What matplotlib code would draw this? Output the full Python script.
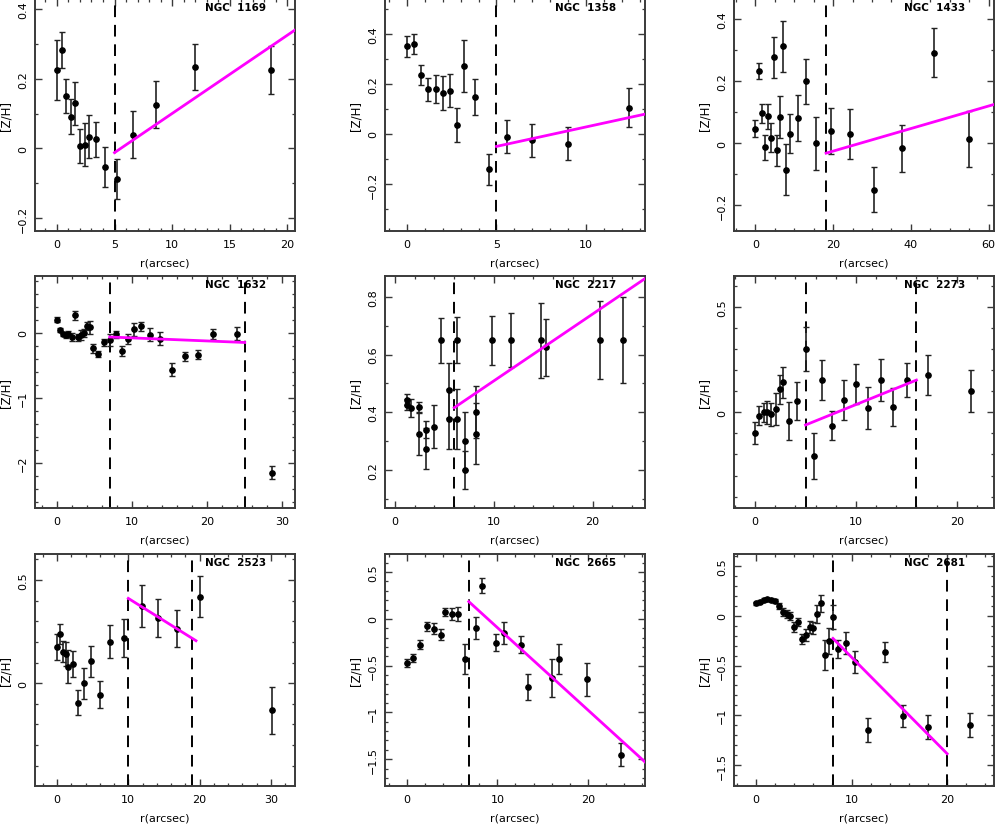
import matplotlib
matplotlib.use("Agg")
import matplotlib.pyplot as plt
from matplotlib.ticker import MultipleLocator, FuncFormatter

# ---------------------------------------------------------------------------
# Data: r (arcsec), [Z/H], error
# ---------------------------------------------------------------------------

names = ["NGC  1169", "NGC  1358", "NGC  1433",
         "NGC  1632", "NGC  2217", "NGC  2273",
         "NGC  2523", "NGC  2665", "NGC  2681"]

r_1169 = [0, 0.4, 0.8, 1.2, 1.6, 2.0, 2.4, 2.8, 3.4, 4.2, 5.2, 6.6, 8.6, 12.0, 18.6]
z_1169 = [0.225, 0.282, 0.15, 0.091, 0.13, 0.007, 0.011, 0.034, 0.026, -0.054,
          -0.088, 0.04, 0.126, 0.235, 0.225]
e_1169 = [0.085, 0.052, 0.048, 0.05, 0.062, 0.048, 0.062, 0.062, 0.05, 0.058,
          0.058, 0.068, 0.068, 0.066, 0.07]

r_1358 = [0, 0.4, 0.8, 1.2, 1.6, 2.0, 2.4, 2.8, 3.2, 3.8, 4.6, 5.6, 7.0, 9.0, 12.4]
z_1358 = [0.35, 0.36, 0.235, 0.178, 0.18, 0.165, 0.173, 0.035, 0.272, 0.148,
          -0.142, -0.012, -0.025, -0.04, 0.104]
e_1358 = [0.043, 0.04, 0.04, 0.045, 0.057, 0.068, 0.065, 0.068, 0.103, 0.073,
          0.062, 0.066, 0.066, 0.066, 0.078]

r_1433 = [0, 0.9, 1.6, 2.4, 3.2, 4.0, 4.7, 5.5, 6.3, 7.0, 7.8, 8.8, 11.0, 13.0,
          15.7, 19.4, 24.4, 30.4, 37.7, 45.9, 55.0]
z_1433 = [0.047, 0.234, 0.097, -0.013, 0.087, 0.018, 0.277, -0.023, 0.084, 0.312,
          -0.085, 0.03, 0.082, 0.2, 0.0, 0.039, 0.029, -0.15, -0.017, 0.292, 0.014]
e_1433 = [0.027, 0.026, 0.031, 0.04, 0.04, 0.047, 0.067, 0.05, 0.068, 0.083,
          0.082, 0.063, 0.075, 0.072, 0.085, 0.075, 0.08, 0.073, 0.076, 0.08, 0.09]

r_1632 = [0, 0.35, 0.75, 1.15, 1.5, 1.95, 2.4, 2.8, 3.2, 3.55, 4.0, 4.4, 4.8, 5.4,
          6.2, 7.0, 7.8, 8.6, 9.4, 10.2, 11.2, 12.4, 13.75, 15.35, 17.0, 18.8,
          20.8, 24.0, 28.6]
z_1632 = [0.2, 0.04, -0.02, -0.035, -0.015, -0.07, 0.27, -0.07, -0.035, -0.005,
          0.105, 0.08, -0.24, -0.33, -0.15, -0.11, -0.025, -0.28, -0.1, 0.05, 0.1,
          -0.035, -0.09, -0.57, -0.36, -0.34, -0.02, -0.015, -2.15]
e_1632 = [0.04, 0.03, 0.03, 0.04, 0.04, 0.06, 0.07, 0.05, 0.07, 0.06, 0.06, 0.1,
          0.07, 0.05, 0.06, 0.09, 0.05, 0.08, 0.08, 0.1, 0.07, 0.1, 0.1, 0.1, 0.07,
          0.07, 0.08, 0.1, 0.1]

r_2217 = [1.2, 1.2, 1.6, 2.4, 2.4, 3.15, 3.15, 3.95, 4.7, 5.5, 5.5, 6.25, 6.25,
          7.05, 7.05, 8.2, 8.2, 9.8, 11.7, 14.8, 15.3, 20.7, 23.05]
z_2217 = [0.444, 0.427, 0.415, 0.417, 0.326, 0.34, 0.274, 0.35, 0.65, 0.476, 0.377,
          0.65, 0.377, 0.3, 0.2, 0.4, 0.326, 0.65, 0.65, 0.65, 0.625, 0.65, 0.65]
e_2217 = [0.02, 0.02, 0.03, 0.02, 0.075, 0.03, 0.07, 0.075, 0.078, 0.095, 0.105,
          0.08, 0.105, 0.1, 0.065, 0.09, 0.107, 0.085, 0.093, 0.13, 0.1, 0.135, 0.15]

r_2273 = [0, 0.43, 0.83, 1.22, 1.62, 2.02, 2.42, 2.81, 3.4, 4.2, 5.07, 5.86, 6.62,
          7.6, 8.84, 10.03, 11.2, 12.45, 13.64, 15.03, 17.2, 21.4]
z_2273 = [-0.098, -0.017, 0.0, 0.0, -0.01, 0.016, 0.109, 0.142, -0.04, 0.054, 0.301,
          -0.207, 0.153, -0.063, 0.057, 0.136, 0.02, 0.155, 0.024, 0.153, 0.175, 0.101]
e_2273 = [0.05, 0.045, 0.045, 0.055, 0.055, 0.075, 0.07, 0.075, 0.09, 0.09, 0.105,
          0.11, 0.095, 0.07, 0.095, 0.095, 0.1, 0.1, 0.09, 0.082, 0.095, 0.1]

r_2523 = [0, 0.37, 0.8, 1.2, 1.6, 2.2, 3.0, 3.83, 4.8, 6.0, 7.4, 9.35, 11.9, 14.2,
          16.8, 20.0, 30.2]
z_2523 = [0.176, 0.239, 0.153, 0.142, 0.079, 0.095, -0.095, 0.0, 0.106, -0.055,
          0.2, 0.219, 0.374, 0.316, 0.265, 0.419, -0.132]
e_2523 = [0.063, 0.05, 0.05, 0.06, 0.08, 0.063, 0.06, 0.075, 0.075, 0.065, 0.08,
          0.09, 0.1, 0.09, 0.09, 0.1, 0.113]

r_2665 = [0, 0.74, 1.47, 2.28, 3.0, 3.8, 4.2, 4.97, 5.7, 6.45, 7.6, 8.36, 9.9,
          10.7, 12.6, 13.4, 16.06, 16.8, 19.85, 23.7]
z_2665 = [-0.473, -0.416, -0.274, -0.078, -0.103, -0.171, 0.075, 0.05, 0.05,
          -0.427, -0.1, 0.356, -0.253, -0.153, -0.274, -0.726, -0.63, -0.427,
          -0.648, -1.452]
e_2665 = [0.04, 0.04, 0.05, 0.05, 0.055, 0.06, 0.04, 0.065, 0.075, 0.16, 0.12,
          0.08, 0.09, 0.12, 0.095, 0.14, 0.2, 0.16, 0.18, 0.12]

r_2681 = [0, 0.45, 0.83, 1.2, 1.6, 2.0, 2.4, 2.8, 3.2, 3.6, 4.0, 4.4, 4.8, 5.2,
          5.6, 6.0, 6.4, 6.8, 7.2, 7.6, 8.05, 8.6, 9.4, 10.4, 11.7, 13.5, 15.4,
          18.0, 22.4]
z_2681 = [0.124, 0.14, 0.16, 0.164, 0.16, 0.144, 0.094, 0.04, 0.017, -0.007,
          -0.117, -0.064, -0.23, -0.19, -0.117, -0.124, 0.02, 0.127, -0.396,
          -0.252, -0.01, -0.33, -0.275, -0.466, -1.148, -0.36, -1.007, -1.117, -1.097]
e_2681 = [0.015, 0.015, 0.015, 0.015, 0.015, 0.02, 0.03, 0.04, 0.04, 0.04, 0.05,
          0.04, 0.05, 0.06, 0.06, 0.06, 0.09, 0.085, 0.15, 0.13, 0.12, 0.09, 0.11,
          0.11, 0.12, 0.1, 0.11, 0.12, 0.12]

radii = [r_1169, r_1358, r_1433, r_1632, r_2217, r_2273, r_2523, r_2665, r_2681]
metal = [z_1169, z_1358, z_1433, z_1632, z_2217, z_2273, z_2523, z_2665, z_2681]
errs = [e_1169, e_1358, e_1433, e_1632, e_2217, e_2273, e_2523, e_2665, e_2681]

# linear fit segments (end points in data units)
fit_r = [[5, 20.66], [5, 13.3], [18.2, 61.4], [7, 25], [6, 25.3],
         [5, 16], [10, 19.5], [6.85, 26.3], [8.05, 20]]
fit_z = [[-0.012, 0.34], [-0.05, 0.079], [-0.032, 0.125], [-0.066, -0.15],
         [0.416, 0.864], [-0.06, 0.153], [0.411, 0.206], [0.185, -1.53],
         [-0.228, -1.386]]

# radial boundaries (dashed lines)
bounds = [[5], [5], [18.2], [7, 25], [6], [5, 16], [10, 19], [6.85], [8.05, 20]]

# ---------------------------------------------------------------------------
# Axis settings
# ---------------------------------------------------------------------------
xlims = [(-1.9, 20.66), (-1.23, 13.3), (-5.5, 61.4), (-2.96, 31.7), (-1.0, 25.3),
         (-2.1, 23.7), (-3.1, 33.4), (-2.4, 26.3), (-2.3, 24.9)]
ylims = [(-0.237, 0.429), (-0.388, 0.539), (-0.283, 0.465), (-2.69, 0.87),
         (0.068, 0.873), (-0.454, 0.647), (-0.498, 0.626), (-1.787, 0.694),
         (-1.71, 0.62)]
xmaj = [5, 5, 20, 10, 10, 10, 10, 10, 10]
xmin = [1, 1, 5, 2, 2, 2, 2, 2, 2]
ymaj = [0.2, 0.2, 0.2, 1, 0.2, 0.5, 0.5, 0.5, 0.5]
ymin = [0.1, 0.1, 0.1, 0.2, 0.1, 0.1, 0.1, 0.1, 0.1]

W, H = 997, 828
col_left = [35, 385, 734]
row_top = [0, 277, 555]
ax_w, ax_h = 260, 232

FRAME = "#3a3a3a"
FS = 8


def fmt(v, pos):
    if abs(v) < 1e-9:
        return "0"
    return ("%g" % v).replace("-", "\u2212")


plt.rcParams["font.family"] = ["DejaVu Sans"]
fig = plt.figure(figsize=(W / 100, H / 100), dpi=100)

for i in range(9):
    row, col = divmod(i, 3)
    left = col_left[col] / W
    bottom = 1 - (row_top[row] + ax_h) / H
    ax = fig.add_axes([left, bottom, ax_w / W, ax_h / H])

    ax.errorbar(radii[i], metal[i], yerr=errs[i], fmt="o", color="black",
                ecolor="#222222", elinewidth=1.2, capsize=2.5, capthick=1.0,
                markersize=3.8, zorder=3)
    for b in bounds[i]:
        ax.axvline(b, color="black", linestyle=(0, (6, 4)), linewidth=1.4, zorder=2)
    ax.plot(fit_r[i], fit_z[i], color="#ff00ff", linewidth=2.0, zorder=4)

    ax.set_xlim(*xlims[i])
    ax.set_ylim(*ylims[i])
    ax.xaxis.set_major_locator(MultipleLocator(xmaj[i]))
    ax.xaxis.set_minor_locator(MultipleLocator(xmin[i]))
    ax.yaxis.set_major_locator(MultipleLocator(ymaj[i]))
    ax.yaxis.set_minor_locator(MultipleLocator(ymin[i]))
    ax.xaxis.set_major_formatter(FuncFormatter(fmt))
    ax.yaxis.set_major_formatter(FuncFormatter(fmt))

    ax.tick_params(which="both", direction="in", top=True, right=True,
                   color=FRAME, labelsize=FS)
    ax.tick_params(which="major", length=5, width=1.0)
    ax.tick_params(which="minor", length=2.5, width=0.9)
    ax.tick_params(axis="x", pad=6)
    ax.tick_params(axis="y", pad=5)
    for lab in ax.get_yticklabels():
        lab.set_rotation(90)
        lab.set_va("center")
    for s in ax.spines.values():
        s.set_color(FRAME)
        s.set_linewidth(1.4)

    ax.set_xlabel("r(arcsec)", fontsize=FS)
    ax.xaxis.set_label_coords(0.5, -0.115)
    ax.set_ylabel("[Z/H]", fontsize=FS + 0.5)
    ax.yaxis.set_label_coords(-0.088, 0.5)
    ax.text(0.89, 0.985, names[i], transform=ax.transAxes, ha="right", va="top",
            fontsize=7.5, fontweight="bold", zorder=5)

fig.savefig("out.png", dpi=100)
